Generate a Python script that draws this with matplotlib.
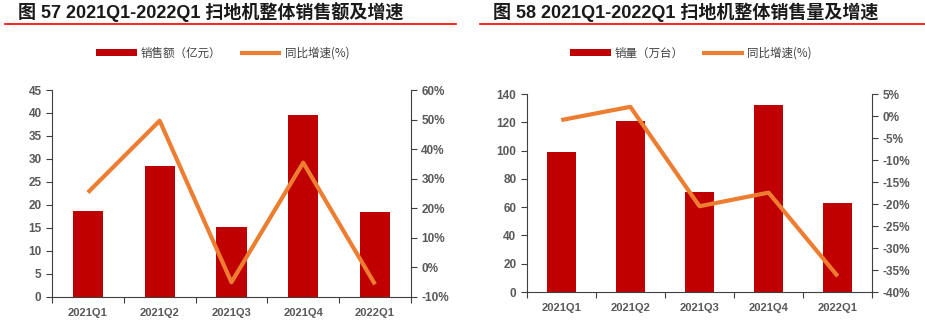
import numpy as np
import matplotlib.pyplot as plt
from matplotlib.lines import Line2D

quarters = ['2021Q1', '2021Q2', '2021Q3', '2021Q4', '2022Q1']
sales_amt = [18.7, 28.5, 15.2, 39.6, 18.5]        # 亿元
sales_amt_yoy = [25.3, 49.6, -5.1, 35.4, -5.8]    # %
sales_vol = [99.0, 120.7, 70.5, 132.2, 63.2]      # 万台
sales_vol_yoy = [-0.9, 2.1, -20.5, -17.4, -36.4]  # %

BAR = '#C00000'
LINE = '#ED7D31'
TICK = '#595959'
latin_bold = dict(family=['Liberation Sans', 'Noto Sans CJK SC'], weight='bold')
cjk = ['Noto Sans CJK SC', 'DejaVu Sans']

fig = plt.figure(figsize=(9.25, 3.25), dpi=100)


def panel(rect, bars, yoy, ylim, yticks, y2lim, y2ticks, bar_label, title, title_x, line_x):
    ax = fig.add_axes(rect)
    x = np.arange(len(quarters))
    b = ax.bar(x, bars, width=0.42, color=BAR, zorder=2)
    ax.set_xlim(-0.5, len(quarters) - 0.5)
    ax.set_ylim(*ylim)
    ax.set_yticks(yticks)
    ax.set_xticks(np.arange(-0.5, len(quarters), 1.0))
    ax.set_xticklabels([])
    ax.set_xticks(x, minor=True)
    ax.set_xticklabels(quarters, minor=True)
    ax.tick_params(axis='x', which='major', length=4, direction='out', color='#404040')
    ax.tick_params(axis='x', which='minor', length=0, pad=8)
    ax.tick_params(axis='y', length=4, direction='out', color='#404040')
    for lab in ax.get_xticklabels(minor=True):
        lab.set_fontproperties({'family': 'Liberation Sans', 'weight': 'bold', 'size': 8})
        lab.set_color(TICK)
    for lab in ax.get_yticklabels():
        lab.set_fontproperties({'family': 'Liberation Sans', 'weight': 'bold', 'size': 8.5})
        lab.set_color(TICK)
    ax.spines['top'].set_visible(False)
    ax.spines['right'].set_visible(False)
    ax.spines['left'].set_color('#404040')
    ax.spines['bottom'].set_color('#404040')

    ax2 = ax.twinx()
    l, = ax2.plot(x, yoy, color=LINE, lw=3.0, solid_capstyle='butt', zorder=3)
    ax2.set_ylim(*y2lim)
    ax2.set_yticks(y2ticks)
    ax2.set_yticklabels([f'{t}%' for t in y2ticks])
    ax2.tick_params(axis='y', length=4, direction='out', color='#404040')
    for lab in ax2.get_yticklabels():
        lab.set_fontproperties({'family': 'Liberation Sans', 'weight': 'bold', 'size': 8.5})
        lab.set_color(TICK)
    for s in ['top', 'left', 'bottom']:
        ax2.spines[s].set_visible(False)
    ax2.spines['right'].set_color('#404040')

    top_px = (1 - rect[1] - rect[3]) * 325
    leg_y = 1 + (top_px - 53) / (rect[3] * 325)
    leg = ax.legend([b, l], [bar_label, '同比增速(%)'], loc='center',
                    bbox_to_anchor=(0.475, leg_y), ncol=2, frameon=False,
                    prop={'family': cjk, 'size': 8.3}, handlelength=3.6,
                    handleheight=0.65, columnspacing=1.6, handletextpad=0.3,
                    borderaxespad=0, borderpad=0)
    for t in leg.get_texts():
        t.set_color('#404040')

    fig.text(title_x, 0.962, title, fontsize=13, va='center', ha='left', color='#1a1a1a', **latin_bold)
    fig.add_artist(Line2D(line_x, [0.925, 0.925], color='#FF0000', lw=1.2))
    return ax, ax2


panel([0.0562, 0.087, 0.388, 0.636], sales_amt, sales_amt_yoy,
      (0, 45), np.arange(0, 50, 5), (-10, 60), list(range(-10, 70, 10)),
      '销售额（亿元）', '图 57 2021Q1-2022Q1 扫地机整体销售额及增速', 0.0195, [0.005, 0.493])

panel([0.5694, 0.1015, 0.3736, 0.609], sales_vol, sales_vol_yoy,
      (0, 140), np.arange(0, 160, 20), (-40, 5), list(range(-40, 10, 5)),
      '销量（万台）', '图 58 2021Q1-2022Q1 扫地机整体销售量及增速', 0.533, [0.519, 1.0])

fig.savefig('out.png', dpi=100)
